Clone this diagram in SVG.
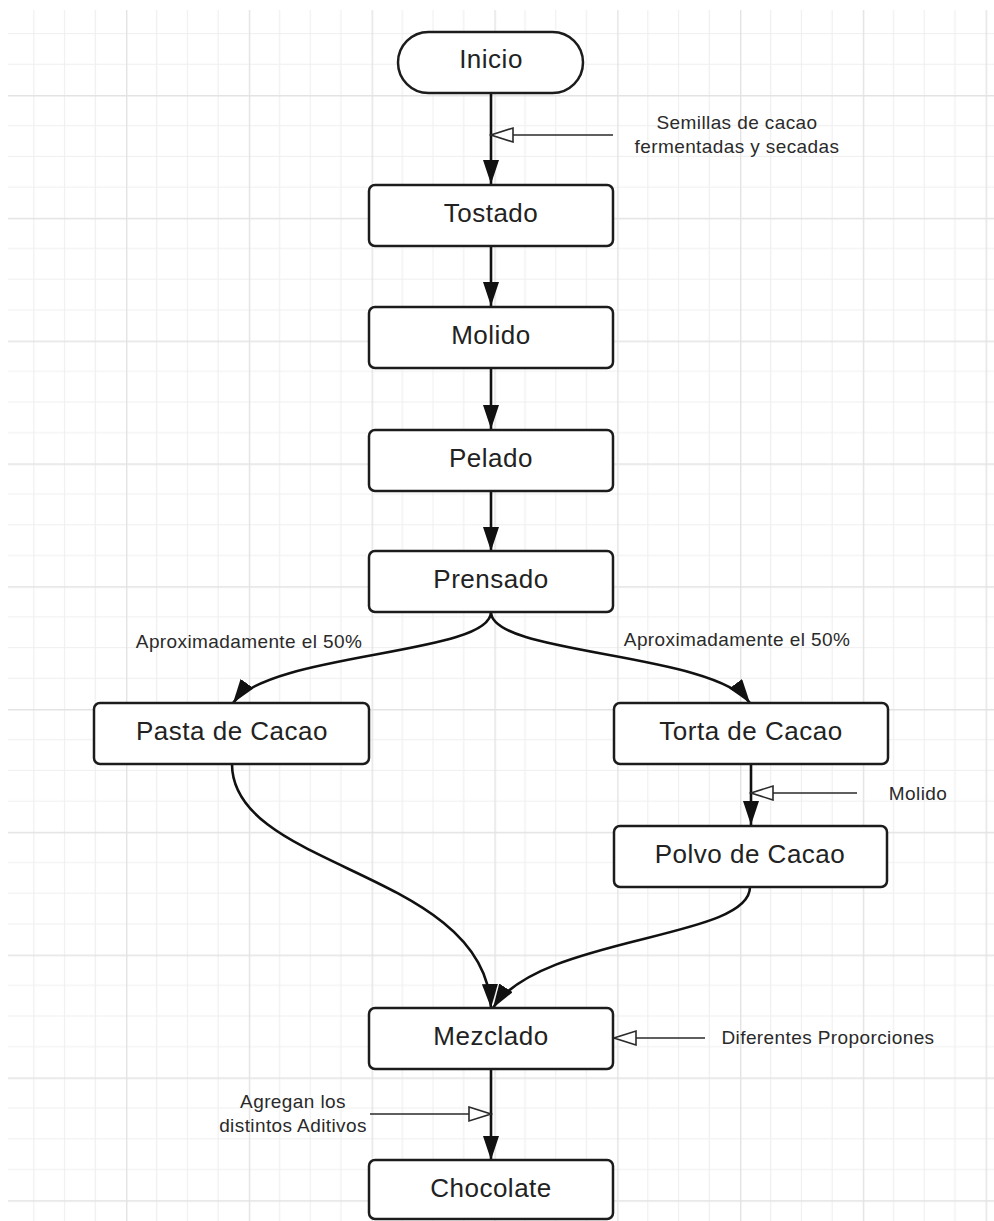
<svg xmlns="http://www.w3.org/2000/svg" width="994" height="1221" viewBox="0 0 994 1221">
  <style>
    .node { fill: #ffffff; stroke: #1c1c1c; stroke-width: 2.5; }
    .label { font-family: "Liberation Sans", Arial, sans-serif; font-size: 26px; letter-spacing: 0.5px; fill: #222222; text-anchor: middle; }
    .note { font-family: "Liberation Sans", Arial, sans-serif; font-size: 19px; letter-spacing: 0.4px; fill: #2a2a2a; text-anchor: middle; }
    .flow { fill: none; stroke: #111111; stroke-width: 2.6; }
    .input { fill: none; stroke: #2a2a2a; stroke-width: 1.6; }
    .grid-minor { stroke: #efefef; stroke-width: 1.2; }
    .grid-major { stroke: #e3e3e3; stroke-width: 1.4; }
  </style>
  <defs>
    <pattern id="grid" x="126" y="95" width="122.8" height="122.8" patternUnits="userSpaceOnUse">
      <line class="grid-minor" x1="30.7" y1="0" x2="30.7" y2="122.8"/>
      <line class="grid-minor" x1="61.4" y1="0" x2="61.4" y2="122.8"/>
      <line class="grid-minor" x1="92.1" y1="0" x2="92.1" y2="122.8"/>
      <line class="grid-minor" x1="0" y1="30.7" x2="122.8" y2="30.7"/>
      <line class="grid-minor" x1="0" y1="61.4" x2="122.8" y2="61.4"/>
      <line class="grid-minor" x1="0" y1="92.1" x2="122.8" y2="92.1"/>
      <line class="grid-major" x1="0.7" y1="0" x2="0.7" y2="122.8"/>
      <line class="grid-major" x1="0" y1="0.7" x2="122.8" y2="0.7"/>
    </pattern>
    <!-- solid arrowhead for the main flow -->
    <marker id="arrow" viewBox="0 0 24 16" refX="24" refY="8" markerWidth="24" markerHeight="16" markerUnits="userSpaceOnUse" orient="auto">
      <path d="M0,0 L24,8 L0,16 Z" fill="#111111"/>
    </marker>
    <!-- hollow arrowhead for material inputs -->
    <marker id="open" viewBox="-2 -2 26 18" refX="22" refY="7" markerWidth="26" markerHeight="18" markerUnits="userSpaceOnUse" orient="auto">
      <path d="M0,0 L22,7 L0,14 Z" fill="#ffffff" stroke="#2a2a2a" stroke-width="1.6"/>
    </marker>
  </defs>

  <!-- background grid -->
  <rect x="0" y="0" width="994" height="1221" fill="#ffffff"/>
  <rect x="8" y="10" width="986" height="1211" fill="url(#grid)"/>

  <!-- connectors -->
  <g id="connectors">
    <line class="flow" x1="491" y1="93" x2="491" y2="184" marker-end="url(#arrow)"/>
    <line class="input" x1="613" y1="135" x2="491" y2="135" marker-end="url(#open)"/>
    <line class="flow" x1="491" y1="246" x2="491" y2="306" marker-end="url(#arrow)"/>
    <line class="flow" x1="491" y1="368" x2="491" y2="429" marker-end="url(#arrow)"/>
    <line class="flow" x1="491" y1="491" x2="491" y2="551" marker-end="url(#arrow)"/>
    <path class="flow" d="M491,612 C491,655 270,652 233,703" marker-end="url(#arrow)"/>
    <path class="flow" d="M491,612 C491,655 712,652 750,703" marker-end="url(#arrow)"/>
    <line class="flow" x1="751" y1="764" x2="751" y2="825" marker-end="url(#arrow)"/>
    <line class="input" x1="857" y1="793" x2="751" y2="793" marker-end="url(#open)"/>
    <path class="flow" d="M232,764 C232,870 485,870 491,1008" marker-end="url(#arrow)"/>
    <path class="flow" d="M750,887 C750,940 540,935 493,1008" marker-end="url(#arrow)"/>
    <line class="input" x1="705" y1="1038" x2="614" y2="1038" marker-end="url(#open)"/>
    <line class="flow" x1="491" y1="1069" x2="491" y2="1160" marker-end="url(#arrow)"/>
    <line class="input" x1="370" y1="1114" x2="491" y2="1114" marker-end="url(#open)"/>
  </g>

  <!-- connector notes -->
  <g id="notes">
    <text class="note" x="737" y="129">Semillas de cacao</text>
    <text class="note" x="737" y="153">fermentadas y secadas</text>
    <text class="note" x="249" y="648">Aproximadamente el 50%</text>
    <text class="note" x="737" y="646">Aproximadamente el 50%</text>
    <text class="note" x="918" y="800">Molido</text>
    <text class="note" x="828" y="1044">Diferentes Proporciones</text>
    <text class="note" x="293" y="1108">Agregan los</text>
    <text class="note" x="293" y="1132">distintos Aditivos</text>
  </g>

  <g id="inicio">
    <rect class="node" x="398" y="32" width="185" height="61" rx="30.5"/>
    <text class="label" x="491" y="68">Inicio</text>
  </g>
  <g id="tostado">
    <rect class="node" x="369" y="185" width="244" height="61" rx="6"/>
    <text class="label" x="491" y="222">Tostado</text>
  </g>
  <g id="molido">
    <rect class="node" x="369" y="307" width="244" height="61" rx="6"/>
    <text class="label" x="491" y="344">Molido</text>
  </g>
  <g id="pelado">
    <rect class="node" x="369" y="430" width="244" height="61" rx="6"/>
    <text class="label" x="491" y="467">Pelado</text>
  </g>
  <g id="prensado">
    <rect class="node" x="369" y="551" width="244" height="61" rx="6"/>
    <text class="label" x="491" y="588">Prensado</text>
  </g>
  <g id="pasta-de-cacao">
    <rect class="node" x="94" y="703" width="275" height="61" rx="6"/>
    <text class="label" x="232" y="740">Pasta de Cacao</text>
  </g>
  <g id="torta-de-cacao">
    <rect class="node" x="614" y="703" width="274" height="61" rx="6"/>
    <text class="label" x="751" y="740">Torta de Cacao</text>
  </g>
  <g id="polvo-de-cacao">
    <rect class="node" x="614" y="826" width="273" height="61" rx="6"/>
    <text class="label" x="750" y="863">Polvo de Cacao</text>
  </g>
  <g id="mezclado">
    <rect class="node" x="369" y="1008" width="244" height="61" rx="6"/>
    <text class="label" x="491" y="1045">Mezclado</text>
  </g>
  <g id="chocolate">
    <rect class="node" x="369" y="1160" width="244" height="59" rx="6"/>
    <text class="label" x="491" y="1197">Chocolate</text>
  </g>
</svg>
